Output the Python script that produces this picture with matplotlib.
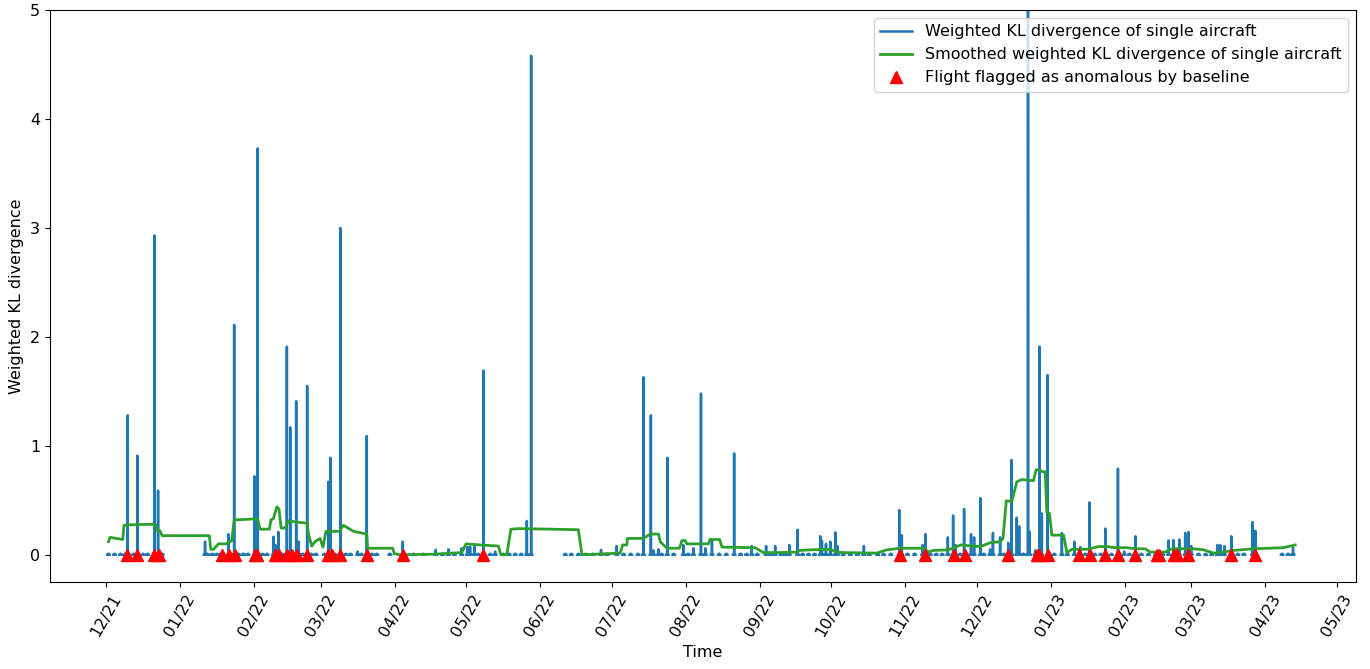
import numpy as np
import pandas as pd
import matplotlib
matplotlib.use("Agg")
import matplotlib.pyplot as plt
import matplotlib.dates as mdates

plt.rcParams["font.size"] = 11.5

# Observation window start; all times below are days elapsed since T0
T0 = pd.Timestamp("2021-12-01")

# Flights with a noticeable weighted KL divergence (day offset, value)
spike_day = [9.1, 13.1, 20.3, 21.8, 41.5, 51.3, 53.7, 62.2, 63.6, 70.2,
             71.0, 72.2, 75.8, 77.2, 79.7, 80.8, 84.3, 93.2, 94.0, 98.2,
             105.5, 109.3, 124.4, 138.2, 143.5, 149.1, 151.5, 152.6, 154.4, 158.2,
             163.1, 176.4, 178.2, 207.5, 214.1, 225.3, 228.4, 229.5, 231.6, 235.3,
             242.0, 246.2, 249.4, 251.2, 254.0, 263.3, 270.7, 276.7, 280.5, 286.4,
             289.9, 299.4, 300.1, 301.8, 303.6, 305.7, 306.6, 317.7, 332.5, 333.6,
             342.3, 343.5, 352.9, 355.1, 356.1, 359.7, 362.6, 363.9, 366.5, 370.6,
             371.8, 374.8, 378.2, 379.6, 381.8, 382.8, 386.5, 387.2, 389.5, 391.3,
             392.3, 394.7, 400.7, 405.9, 408.4, 412.3, 418.9, 424.2, 426.8, 431.6,
             445.4, 447.5, 449.9, 452.4, 453.8, 454.9, 465.9, 467.1, 468.8, 471.7,
             480.6, 481.8, 497.6]
spike_val = [1.28, 0.91, 2.93, 0.59, 0.12, 0.19, 2.11, 0.72, 3.73, 0.165,
             0.09, 0.21, 1.91, 1.17, 1.41, 0.12, 1.55, 0.67, 0.89, 3.00,
             0.03, 1.09, 0.12, 0.045, 0.05, 0.06, 0.07, 0.075, 0.075, 1.69,
             0.03, 0.31, 4.58, 0.045, 0.08, 1.63, 1.28, 0.04, 0.05, 0.89,
             0.09, 0.06, 1.48, 0.06, 0.14, 0.93, 0.08, 0.08, 0.08, 0.09,
             0.23, 0.17, 0.13, 0.10, 0.12, 0.205, 0.08, 0.08, 0.41, 0.18,
             0.09, 0.19, 0.16, 0.36, 0.09, 0.42, 0.19, 0.16, 0.52, 0.05,
             0.20, 0.16, 0.11, 0.87, 0.34, 0.26, 5.30, 0.21, 0.04, 1.91,
             0.38, 1.65, 0.20, 0.12, 0.07, 0.48, 0.24, 0.79, 0.03, 0.17,
             0.13, 0.135, 0.14, 0.20, 0.21, 0.08, 0.09, 0.09, 0.08, 0.17,
             0.30, 0.22, 0.065]

# Routine flights with near-zero divergence
quiet_day = [1.0, 3.5, 6.0, 8.0, 11.5, 15.5, 17.5, 23.5,
             42.5, 44.5, 46.5, 48.0, 55.5, 57.5, 59.5, 65.5, 67.5, 74.0, 82.5,
             86.0, 88.0, 91.5, 96.0, 100.5, 102.5, 107.0, 111.5, 113.5,
             119.0, 129.0, 133.0, 141.0, 146.0, 156.0, 161.0,
             166.5, 169.0, 171.5, 174.0,
             192.5, 195.0, 198.0, 201.0, 204.0, 210.0, 217.0, 220.0, 223.0, 233.0,
             238.0, 244.0, 257.0, 260.0, 266.0, 268.5, 273.0, 278.5, 283.0,
             284.5, 292.0, 294.5, 297.0, 309.0, 312.0, 315.0, 320.0, 323.5, 326.0,
             329.0, 336.0, 339.0, 345.5, 348.0, 350.5, 358.0, 368.0, 376.5, 384.5,
             397.5, 403.0, 410.5, 414.5, 417.0, 421.5, 429.0, 434.0, 437.0, 440.0,
             443.0, 458.0, 461.0, 463.5, 474.5, 477.0, 493.0, 495.5]
QUIET_LEVEL = 0.01

# Smoothed divergence
smooth_day = [1.0, 1.7, 7.0, 7.5, 10.1, 19.8, 21.0, 21.5, 22.6, 23.5,
              43.3, 43.9, 45.0, 47.1, 50.3, 52.7, 53.7, 59.0, 62.9, 63.6,
              64.6, 68.5, 69.1, 70.1, 71.6, 72.5, 73.4, 75.1, 76.4, 80.0,
              84.2, 84.8, 86.2, 87.6, 89.7, 90.9, 92.2, 97.8, 99.5, 103.7,
              109.3, 109.6, 120.2, 120.8, 123.3, 137.1, 149.1, 150.9, 156.8, 164.5,
              165.5, 168.0, 169.7, 173.6, 198.0, 199.5, 215.5, 216.6, 218.3, 218.6,
              225.3, 228.1, 231.6, 232.3, 235.1, 240.4, 241.4, 242.8, 243.5, 252.5,
              253.2, 257.2, 258.2, 272.1, 275.6, 282.6, 289.6, 291.0, 295.2, 303.6,
              305.7, 308.5, 323.1, 327.3, 332.9, 342.7, 344.8, 346.9, 352.5, 355.3,
              358.1, 366.5, 370.6, 374.8, 376.0, 377.4, 379.7, 381.8, 383.9, 388.8,
              389.9, 391.3, 392.3, 393.7, 394.4, 395.5, 396.5, 401.4, 402.8, 404.9,
              411.2, 416.1, 419.6, 423.1, 428.0, 431.4, 435.6, 437.7, 444.0, 446.8,
              455.9, 460.1, 464.3, 469.9, 472.7, 481.1, 493.6, 498.5]
smooth_val = [0.12, 0.16, 0.14, 0.27, 0.275, 0.28, 0.27, 0.22, 0.22, 0.175,
              0.175, 0.05, 0.05, 0.10, 0.10, 0.13, 0.32, 0.325, 0.33, 0.32,
              0.235, 0.235, 0.32, 0.33, 0.44, 0.42, 0.245, 0.245, 0.31, 0.30,
              0.29, 0.20, 0.08, 0.12, 0.15, 0.07, 0.215, 0.215, 0.27, 0.215,
              0.19, 0.06, 0.06, 0.01, 0.0, 0.005, 0.02, 0.10, 0.09, 0.08,
              0.0, 0.0, 0.235, 0.24, 0.23, 0.0, 0.015, 0.09, 0.09, 0.15,
              0.15, 0.19, 0.19, 0.12, 0.06, 0.06, 0.13, 0.13, 0.10, 0.10,
              0.14, 0.14, 0.07, 0.065, 0.02, 0.02, 0.025, 0.04, 0.045, 0.05,
              0.03, 0.02, 0.015, 0.045, 0.06, 0.06, 0.025, 0.04, 0.045, 0.06,
              0.09, 0.075, 0.11, 0.12, 0.15, 0.495, 0.49, 0.67, 0.69, 0.68,
              0.78, 0.78, 0.765, 0.76, 0.39, 0.38, 0.18, 0.18, 0.02, 0.05,
              0.05, 0.075, 0.075, 0.065, 0.065, 0.055, 0.055, 0.025, 0.025, 0.055,
              0.055, 0.045, 0.015, 0.03, 0.04, 0.055, 0.065, 0.09]

# Flights flagged by the baseline detector
flag_day = [8.7, 13.1, 20.3, 22.3, 48.5, 51.7, 54.1, 62.5, 63.3, 70.9,
            72.5, 75.8, 77.9, 80.1, 84.2, 93.2, 94.6, 98.1, 109.3, 124.4,
            158.2, 332.9, 343.4, 355.3, 359.9, 378.3, 390.1, 391.3, 394.7, 407.7,
            412.3, 418.9, 424.3, 431.4, 440.5, 441.6, 447.5, 449.1, 453.5, 471.6,
            481.8]

t0 = mdates.date2num(T0.to_pydatetime())

# Each flight is its own short trace: flat at zero with the divergence peak
flights = sorted(list(zip(spike_day, spike_val)) +
                 [(d, QUIET_LEVEL) for d in quiet_day])
trace_t, trace_v = [], []
for d, v in flights:
    trace_t += [d - 0.5, d - 0.03, d, d + 0.03, d + 0.5, np.nan]
    trace_v += [0.0, 0.0, v, 0.0, 0.0, np.nan]
trace_t = t0 + np.array(trace_t)
trace_v = np.array(trace_v)

fig = plt.figure(figsize=(13.7, 6.69), dpi=100)
ax = fig.add_axes([50 / 1370, 1 - 582 / 669, 1306 / 1370, 572 / 669])

ax.plot(trace_t, trace_v, color="#1f77b4", lw=1.8,
        label="Weighted KL divergence of single aircraft")
ax.plot(t0 + np.array(smooth_day), smooth_val, color="#2ca02c", lw=2.0,
        label="Smoothed weighted KL divergence of single aircraft")
ax.plot(t0 + np.array(flag_day), np.zeros(len(flag_day)), "^", color="red",
        markersize=8, linestyle="none",
        label="Flight flagged as anomalous by baseline")

ax.set_xlim(t0 - 23.5, t0 + 524.0)
ax.set_ylim(-0.25, 5)
ax.xaxis_date()
ax.xaxis.set_major_locator(mdates.MonthLocator())
ax.xaxis.set_major_formatter(mdates.DateFormatter("%m/%y"))
plt.setp(ax.get_xticklabels(), rotation=60)
ax.set_xlabel("Time")
ax.set_ylabel("Weighted KL divergence")
ax.legend(loc="upper right")

fig.savefig("out.png", dpi=100)
